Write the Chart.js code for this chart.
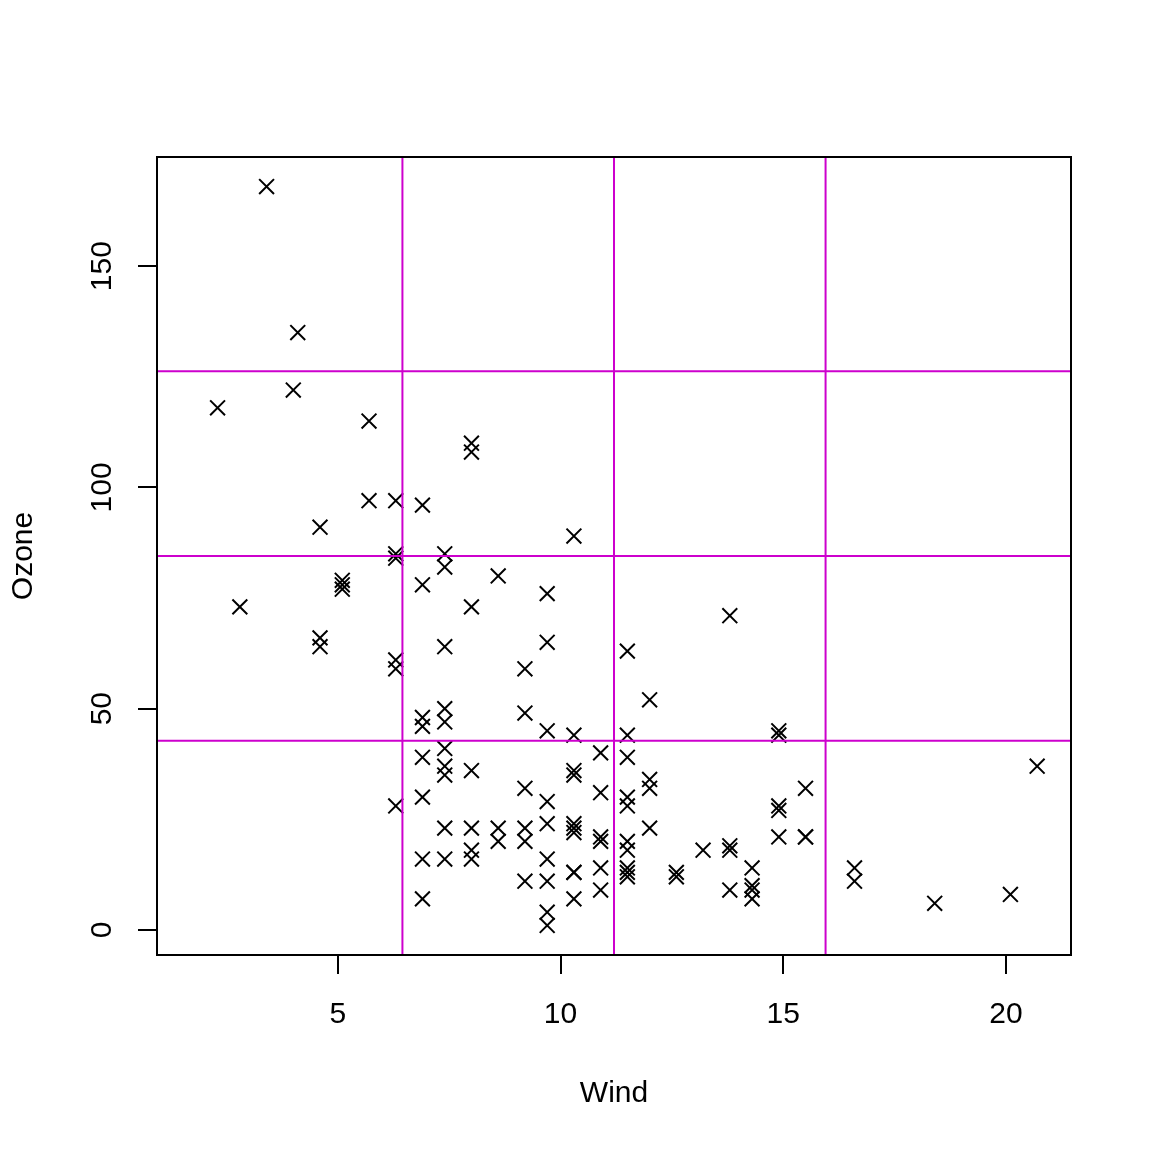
<!DOCTYPE html>
<html>
<head>
<meta charset="utf-8">
<script src="https://cdn.jsdelivr.net/npm/chart.js@4/dist/chart.umd.min.js"></script>
<style>
  html, body { margin: 0; padding: 0; background: #fff; }
  #wrap { width: 1152px; height: 1152px; }
</style>
</head>
<body>
<div id="wrap"><canvas id="chart" width="1152" height="1152"></canvas></div>
<script>
  // airquality rows with Ozone present
  const wind = [7.4, 8.0, 12.6, 11.5, 14.9, 8.6, 13.8, 20.1, 6.9, 9.7, 9.2, 10.9, 13.2, 11.5, 12.0, 18.4, 11.5, 9.7, 9.7, 16.6, 9.7, 12.0,
    12.0, 14.9, 5.7, 7.4,
    9.7, 13.8, 11.5, 8.0, 14.9, 20.7, 9.2, 11.5, 10.3,
    4.1, 9.2, 9.2, 4.6, 10.9, 5.1, 6.3, 5.7, 7.4,
    14.3, 14.9, 14.3, 6.9, 10.3, 6.3, 5.1, 11.5, 6.9,
    8.6, 8.0, 8.6, 12.0, 7.4, 7.4, 7.4, 9.2, 6.9, 13.8, 7.4, 6.9, 7.4, 4.6, 4.0, 10.3, 8.0,
    11.5, 11.5, 9.7, 10.3, 6.3, 7.4, 10.9, 10.3, 15.5, 14.3,
    9.7, 3.4, 8.0, 9.7, 2.3, 6.3, 6.3, 6.9,
    5.1, 2.8, 4.6, 7.4, 15.5, 10.9, 10.3, 10.9, 9.7, 14.9, 15.5, 6.3, 10.9, 11.5, 6.9, 13.8, 10.3, 10.3, 8.0, 12.6, 9.2, 10.3, 10.3, 16.6, 6.9,
    14.3, 8.0, 11.5]
  const ozone = [41, 36, 12, 18, 28, 23, 19, 8, 7, 16, 11, 14, 18, 14, 34, 6, 30, 11, 1, 11, 4, 32,
    23, 45, 115, 37,
    29, 71, 39, 23, 21, 37, 20, 12, 13,
    135, 49, 32, 64, 40, 77, 97, 97, 85,
    10, 27, 7, 48, 35, 61, 79, 63, 16,
    80, 108, 20, 52, 82, 50, 64, 59, 39, 9, 16, 78, 35, 66, 122, 89, 110,
    44, 28, 65, 22, 59, 23, 31, 44, 21, 9,
    45, 168, 73, 76, 118, 84, 85, 96,
    78, 73, 91, 47, 32, 20, 23, 21, 24, 44, 21, 28, 9, 13, 46, 18, 13, 24, 16, 13, 23, 36, 7, 14, 30,
    14, 18, 20]

  const windBreaks = [6.45, 11.2, 15.95]      // cut(Wind, 4)
  const ozoneBreaks = [42.75, 84.5, 126.25]   // cut(Ozone, 4)
  const xTicks = [5, 10, 15, 20]
  const yTicks = [0, 50, 100, 150]
  const xRange = [0.94, 21.46]
  const yRange = [-5.68, 174.68]

  const fontFam = "'Liberation Sans', Arial, sans-serif"

  function makePoints(){
    return wind.map((w, i) => ({x: w, y: ozone[i]}))
  }

  const boxAndLines = {
    id: 'boxAndLines',
    afterDatasetsDraw(chart){
      const ctx = chart.ctx
      const a = chart.chartArea
      const xs = chart.scales.x, ys = chart.scales.y
      ctx.save()
      ctx.strokeStyle = '#CD00CD'
      ctx.lineWidth = 2
      windBreaks.forEach(b => {
        const px = xs.getPixelForValue(b)
        ctx.beginPath(); ctx.moveTo(px, a.top); ctx.lineTo(px, a.bottom); ctx.stroke()
      })
      ozoneBreaks.forEach(b => {
        const py = ys.getPixelForValue(b)
        ctx.beginPath(); ctx.moveTo(a.left, py); ctx.lineTo(a.right, py); ctx.stroke()
      })
      ctx.strokeStyle = '#000'
      ctx.strokeRect(a.left, a.top, a.right - a.left, a.bottom - a.top)
      ctx.restore()
    }
  }

  new Chart(document.getElementById('chart'), {
    type: 'scatter',
    data: {
      datasets: [{
        data: makePoints(),
        pointStyle: 'crossRot',
        radius: 10.5,
        hoverRadius: 10.5,
        borderColor: '#000',
        backgroundColor: '#000',
        borderWidth: 2
      }]
    },
    options: {
      responsive: false,
      animation: false,
      events: [],
      layout: { padding: { top: 157, right: 81, left: 0, bottom: 0 } },
      plugins: { legend: { display: false }, tooltip: { enabled: false } },
      scales: {
        x: {
          type: 'linear',
          min: xRange[0], max: xRange[1],
          afterBuildTicks: s => { s.ticks = xTicks.map(v => ({value: v})) },
          afterFit: s => { s.height = 197 },
          grid: { drawOnChartArea: false, tickLength: 19, color: '#000', lineWidth: 2 },
          border: { display: false },
          ticks: { color: '#000', padding: 23, maxRotation: 0, font: { family: fontFam, size: 30 } },
          title: { display: true, text: 'Wind', color: '#000', padding: { bottom: 40 }, font: { family: fontFam, size: 30 } }
        },
        y: {
          type: 'linear',
          min: yRange[0], max: yRange[1],
          afterBuildTicks: s => { s.ticks = yTicks.map(v => ({value: v})) },
          afterFit: s => { s.width = 157 },
          grid: { drawOnChartArea: false, tickLength: 19, color: '#000', lineWidth: 2 },
          border: { display: false },
          ticks: { color: '#000', padding: 10, minRotation: 90, maxRotation: 90, crossAlign: 'center', font: { family: fontFam, size: 30 } },
          title: { display: true, text: 'Ozone', color: '#000', padding: { top: 6 }, font: { family: fontFam, size: 30 } }
        }
      }
    },
    plugins: [boxAndLines]
  })
</script>
</body>
</html>
